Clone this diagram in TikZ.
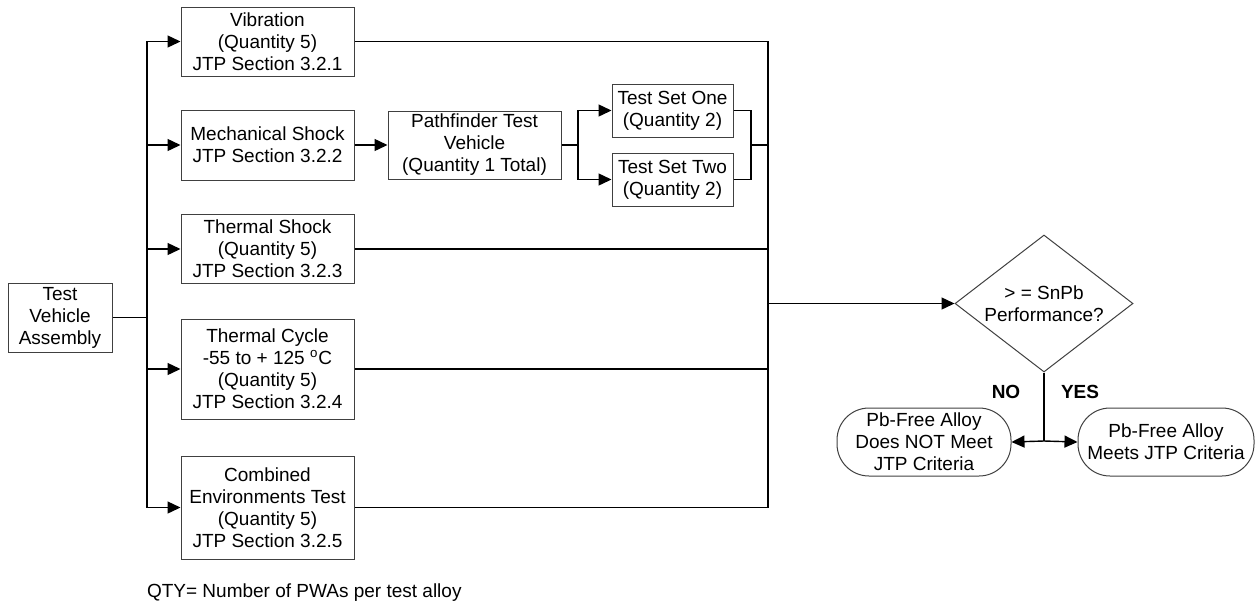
\documentclass[tikz,border=0pt]{standalone}
\usepackage{fontspec}
\setmainfont{Liberation Sans}
\usetikzlibrary{shapes.geometric,arrows.meta}
\definecolor{boxline}{gray}{0.25}
\tikzset{
  blk/.style={draw=boxline,line width=0.5pt,rectangle,align=center,inner sep=1pt,minimum width=86.5pt,font=\fontsize{9.5}{11}\selectfont},
  endv/.style={draw=boxline,line width=0.5pt,rectangle,rounded corners=16pt,align=center,inner sep=1pt,minimum width=87pt,minimum height=34pt,font=\fontsize{9.5}{11}\selectfont},
  decv/.style={draw=boxline,line width=0.5pt,diamond,aspect=1.3,align=center,inner sep=0pt,minimum width=89pt,minimum height=68.5pt,font=\fontsize{9.5}{11}\selectfont},
  lab/.style={font=\fontsize{9.5}{11}\selectfont\bfseries},
  capt/.style={font=\fontsize{9.5}{11}\selectfont},
  ln/.style={line width=0.7pt},
  arr/.style={line width=0.7pt,-{Triangle[length=6.5pt,width=6pt]}},
}
\begin{document}
\begin{tikzpicture}[x=0.5pt,y=0.5pt]
  \useasboundingbox (0,0) rectangle (1258,-606);
  \node[blk,minimum width=52pt,minimum height=34.5pt] (tva) at (60,-317.5) {Test\\Vehicle\\Assembly};
  \node[blk,minimum height=34.5pt] (vib) at (267.5,-41.5) {Vibration\\(Quantity 5)\\JTP Section 3.2.1};
  \node[blk,minimum height=35pt] (mech) at (267.5,-145) {Mechanical Shock\\JTP Section 3.2.2};
  \node[blk,minimum height=34.5pt] (tshock) at (267.5,-249) {Thermal Shock\\(Quantity 5)\\JTP Section 3.2.3};
  \node[blk,minimum height=50pt] (tcycle) at (267.5,-369) {Thermal Cycle\\-55 to + 125 \textsuperscript{o}C\\(Quantity 5)\\JTP Section 3.2.4};
  \node[blk,minimum height=51.5pt] (cet) at (267.5,-507.5) {Combined\\Environments Test\\(Quantity 5)\\JTP Section 3.2.5};
  \node[blk,minimum height=34pt] (path) at (474.5,-145) {Pathfinder Test\\Vehicle\\(Quantity 1 Total)};
  \node[blk,minimum width=60.5pt,minimum height=26.5pt] (setone) at (672.5,-110.5) {Test Set One\\(Quantity 2)};
  \node[blk,minimum width=60.5pt,minimum height=26.5pt] (settwo) at (672.5,-179.5) {Test Set Two\\(Quantity 2)};
  \node[decv] (snpb) at (1044,-303.5) {> = SnPb\\Performance?};
  \node[endv] (fail) at (924,-442) {Pb-Free Alloy\\Does NOT Meet\\JTP Criteria};
  \node[endv,minimum width=88pt] (pass) at (1166,-442) {Pb-Free Alloy\\Meets JTP Criteria};
  \node[lab] (no) at (1006,-392) {NO};
  \node[lab] (yes) at (1080,-392) {YES};
  \node[capt,anchor=west] (qty) at (140,-593) {QTY= Number of PWAs per test alloy};
  \coordinate (trunk) at (147,-317.5);
  \coordinate (fork) at (578,-145);
  \coordinate (join) at (751,-145);
  \coordinate (merge) at (768,-303.5);
  \coordinate (yn) at (1044,-441);
  % fan out to the tests
  \draw[ln] (tva.east) -- (trunk);
  \draw[arr] (trunk) |- (vib.west);
  \draw[arr] (trunk) |- (mech.west);
  \draw[arr] (trunk) |- (tshock.west);
  \draw[arr] (trunk) |- (tcycle.west);
  \draw[arr] (trunk) |- (cet.west);
  \draw[arr] (mech.east) -- (path.west);
  \draw[ln] (path.east) -- (fork);
  \draw[arr] (fork) |- (setone.west);
  \draw[arr] (fork) |- (settwo.west);
  % collect the results
  \draw[ln] (setone.east) -| (join);
  \draw[ln] (settwo.east) -| (join);
  \draw[ln] (join) -- (join -| merge) -- (merge);
  \draw[ln] (vib.east) -| (merge);
  \draw[ln] (tshock.east) -| (merge);
  \draw[ln] (tcycle.east) -| (merge);
  \draw[ln] (cet.east) -| (merge);
  \draw[arr] (merge) -- (snpb.west);
  \draw[ln] (snpb.south) -- (yn);
  \draw[arr] (yn) -- (fail.east);
  \draw[arr] (yn) -- (pass.west);
\end{tikzpicture}
\end{document}
